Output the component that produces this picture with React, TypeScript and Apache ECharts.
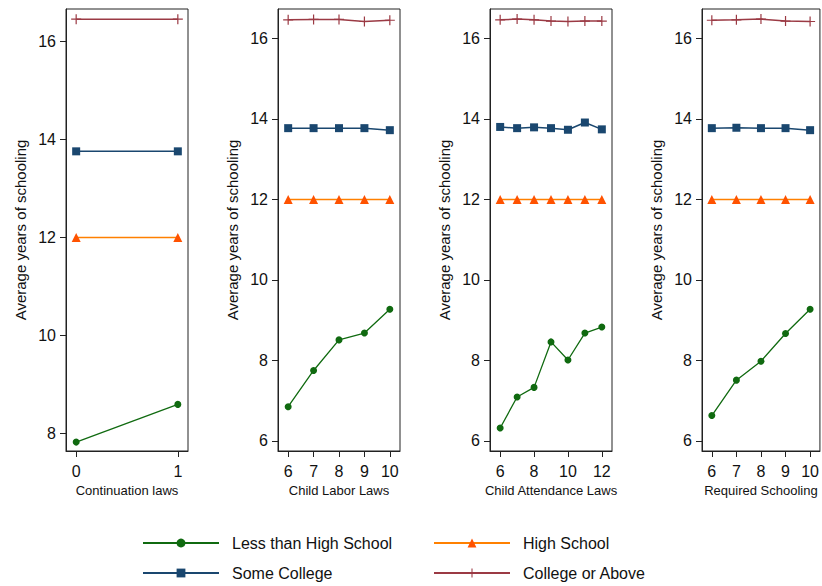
import React, { useEffect, useRef } from "react";
import * as echarts from "echarts";

const seriesNames = ["Less than High School", "High School", "Some College", "College or Above"];
const yTitle = "Average years of schooling";

const panelTitles = ["Continuation laws", "Child Labor Laws", "Child Attendance Laws", "Required Schooling"];

const contX = [0, 1];
const contLess = [7.82, 8.59];
const contHS = [12.0, 12.0];
const contSome = [13.76, 13.76];
const contColl = [16.46, 16.46];

const laborX = [6, 7, 8, 9, 10];
const laborLess = [6.85, 7.75, 8.51, 8.68, 9.27];
const laborHS = [12.0, 12.0, 12.0, 12.0, 12.0];
const laborSome = [13.77, 13.77, 13.77, 13.77, 13.72];
const laborColl = [16.46, 16.47, 16.47, 16.42, 16.45];

const attendX = [6, 7, 8, 9, 10, 11, 12];
const attendLess = [6.32, 7.09, 7.33, 8.46, 8.01, 8.68, 8.83];
const attendHS = [12.0, 12.0, 12.0, 12.0, 12.0, 12.0, 12.0];
const attendSome = [13.8, 13.77, 13.79, 13.77, 13.73, 13.91, 13.74];
const attendColl = [16.46, 16.48, 16.46, 16.43, 16.42, 16.43, 16.43];

const reqX = [6, 7, 8, 9, 10];
const reqLess = [6.63, 7.51, 7.98, 8.67, 9.27];
const reqHS = [12.0, 12.0, 12.0, 12.0, 12.0];
const reqSome = [13.77, 13.78, 13.77, 13.77, 13.72];
const reqColl = [16.45, 16.46, 16.48, 16.43, 16.42];

const xTicks1 = [0, 1];
const xTicks2 = [6, 7, 8, 9, 10];
const xTicks3 = [6, 8, 10, 12];
const xTicks4 = [6, 7, 8, 9, 10];
const yTicks1 = [8, 10, 12, 14, 16];
const yTicks2 = [6, 8, 10, 12, 14, 16];

const FONT = "'Liberation Sans', Arial, Helvetica, sans-serif";
const PLUS = "path://M4.4,0H5.6V4.4H10V5.6H5.6V10H4.4V5.6H0V4.4H4.4Z";

const styles = [
  { line: "#106a10", item: "#106a10", symbol: "circle", size: 7, width: 1.3 },
  { line: "#ff8000", item: "#ff5200", symbol: "triangle", size: 9, width: 1.5 },
  { line: "#1a476f", item: "#1a476f", symbol: "rect", size: 8, width: 1.5 },
  { line: "#9b3a44", item: "#9b3a44", symbol: PLUS, size: 10, width: 1.5 },
];

export default function App() {
  const ref = useRef<HTMLDivElement>(null);
  useEffect(() => {
    if (!ref.current) return;
    const chart = echarts.init(ref.current, null, { renderer: "svg" });

    const panels = [
      { x: contX, ys: [contLess, contHS, contSome, contColl], xr: [-0.1, 1.1], yr: [7.638, 16.668], xt: xTicks1, yt: yTicks1, left: 66 },
      { x: laborX, ys: [laborLess, laborHS, laborSome, laborColl], xr: [5.6, 10.4], yr: [5.75, 16.73], xt: xTicks2, yt: yTicks2, left: 278 },
      { x: attendX, ys: [attendLess, attendHS, attendSome, attendColl], xr: [5.4, 12.6], yr: [5.75, 16.73], xt: xTicks3, yt: yTicks2, left: 490 },
      { x: reqX, ys: [reqLess, reqHS, reqSome, reqColl], xr: [5.6, 10.4], yr: [5.75, 16.73], xt: xTicks4, yt: yTicks2, left: 702 },
    ];

    const grid: any[] = [];
    const xAxis: any[] = [];
    const yAxis: any[] = [];
    const series: any[] = [];

    panels.forEach((p, i) => {
      grid.push({
        left: p.left,
        top: 9,
        width: 122,
        height: 442,
        show: true,
        borderColor: "#222",
        borderWidth: 1,
        backgroundColor: "transparent",
      });
      xAxis.push({
        type: "value",
        gridIndex: i,
        min: p.xr[0],
        max: p.xr[1],
        name: panelTitles[i],
        nameLocation: "middle",
        nameGap: 28,
        nameTextStyle: { fontSize: 13, color: "#111", fontFamily: FONT },
        splitLine: { show: false },
        axisLine: { show: true, onZero: false, lineStyle: { color: "#222", width: 1 } },
        axisTick: { show: true, length: 6, customValues: p.xt, lineStyle: { color: "#222" } },
        axisLabel: { customValues: p.xt, fontSize: 16, color: "#111", fontFamily: FONT, margin: 12 },
      });
      yAxis.push({
        type: "value",
        gridIndex: i,
        min: p.yr[0],
        max: p.yr[1],
        name: yTitle,
        nameLocation: "middle",
        nameGap: 38,
        nameTextStyle: { fontSize: 15, color: "#111", fontFamily: FONT },
        splitLine: { show: false },
        axisLine: { show: true, onZero: false, lineStyle: { color: "#222", width: 1 } },
        axisTick: { show: true, length: 6, customValues: p.yt, lineStyle: { color: "#222" } },
        axisLabel: { customValues: p.yt, fontSize: 16, color: "#111", fontFamily: FONT, margin: 10 },
      });
      p.ys.forEach((vals, k) => {
        const s = styles[k];
        series.push({
          type: "line",
          name: seriesNames[k],
          xAxisIndex: i,
          yAxisIndex: i,
          data: p.x.map((xv, j) => [xv, vals[j]]),
          symbol: s.symbol,
          symbolSize: s.size,
          showSymbol: true,
          lineStyle: { color: s.line, width: s.width },
          itemStyle: { color: s.item },
          z: 2 + k,
        });
      });
    });

    const legendCommon = {
      orient: "vertical",
      top: 535,
      padding: 0,
      itemWidth: 76,
      itemHeight: 11,
      itemGap: 14,
      selectedMode: false,
      textStyle: { fontSize: 16, color: "#111", fontFamily: FONT, lineHeight: 16, padding: [0, 0, 0, 8] },
    };

    chart.setOption({
      animation: false,
      backgroundColor: "#fff",
      grid,
      xAxis,
      yAxis,
      series,
      legend: [
        { ...legendCommon, left: 142, data: [seriesNames[0], seriesNames[2]] },
        { ...legendCommon, left: 433, data: [seriesNames[1], seriesNames[3]] },
      ],
    });
    return () => chart.dispose();
  }, []);

  return (
    <div
      ref={ref}
      style={{ position: "fixed", left: 0, top: 0, width: 822, height: 586, background: "#fff" }}
    />
  );
}
